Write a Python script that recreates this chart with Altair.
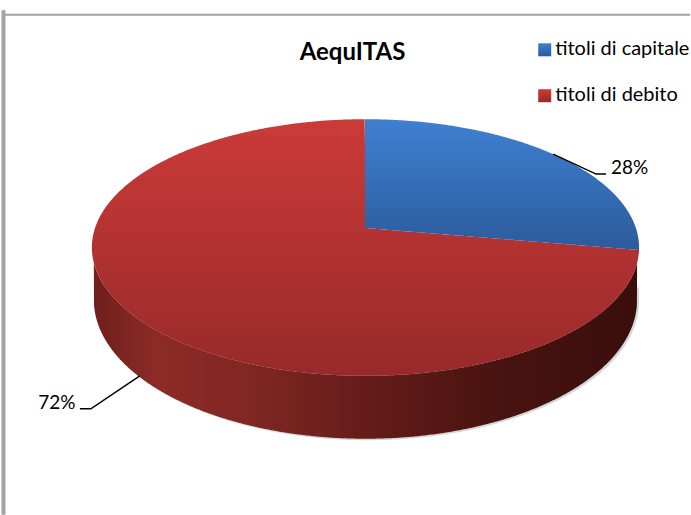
import numpy as np
import pandas as pd
import altair as alt

W, H = 691, 515
title_text = "AequITAS"
categories = ["titoli di capitale", "titoli di debito"]
shares = [28, 72]
labels = ["28%", "72%"]

# Perspective view of the pie
CX, CY, A, B = 366, 247.5, 274, 128.5       # top face
APEX_Y = 228                                 # apex of the slices
RAY_END = (640, 250)                         # slice boundary on the rim
LCY, LA, LB = 300, 272, 139                  # lower rim

def upper(xs, cx=CX, cy=CY, a=A, b=B):
    return cy - b * np.sqrt(np.clip(1 - ((xs - cx) / a) ** 2, 0, 1))

def lower(xs, cx=CX, cy=CY, a=A, b=B):
    return cy + b * np.sqrt(np.clip(1 - ((xs - cx) / a) ** 2, 0, 1))

def dense(x0, x1, n=500):
    # cosine spacing keeps the rim smooth at the ellipse's ends
    return (x0 + x1) / 2 - (x1 - x0) / 2 * np.cos(np.linspace(0, np.pi, n))

xs_all = dense(CX - A, CX + A)
ray = lambda xs: APEX_Y + (xs - CX) * (RAY_END[1] - APEX_Y) / (RAY_END[0] - CX)

# the blue slice overlaps the red one by a hair, so no light seam shows between them
xb = dense(CX - 0.5, RAY_END[0], 300)
blue = pd.DataFrame({"x": xb, "y": upper(xb), "y2": ray(xb)})

red = pd.DataFrame({
    "x": xs_all,
    "y": np.where(xs_all <= CX, upper(xs_all), ray(xs_all)),
    "y2": lower(xs_all),
})

wall_y2 = np.where(np.abs(xs_all - CX) <= LA, lower(xs_all, cy=LCY, a=LA, b=LB), lower(xs_all))
wall = pd.DataFrame({"x": xs_all, "y": lower(xs_all), "y2": np.maximum(wall_y2, lower(xs_all))})

xshadow = dense(CX - LA + 1, CX + LA + 2)
shadow = pd.DataFrame({
    "x": xshadow,
    "y": CY + 40 + 0 * xshadow,
    "y2": lower(xshadow, cx=CX + 2, cy=LCY + 1.5, a=LA, b=LB),
})

X = alt.X("x:Q", scale=alt.Scale(domain=[0, W], range=[0, W], nice=False, zero=False), axis=None)
Y = alt.Y("y:Q", scale=alt.Scale(domain=[H, 0], range=[H, 0], nice=False, zero=False), axis=None)
Y2 = alt.Y2("y2:Q")

def grad(stops, x2=0, y2=1):
    return alt.LinearGradient(
        gradient="linear", x1=0, x2=x2, y1=0, y2=y2,
        stops=[alt.GradientStop(offset=o, color=c) for o, c in stops])

BLUE = grad([(0, "#3f80d2"), (1, "#2b5b9c")])
RED = grad([(0, "#cb3b38"), (1, "#98292a")])
WALL = grad([(0.0, "#6e1f1c"), (0.12, "#8c2b28"), (0.3, "#7f2623"),
             (0.5, "#651c19"), (0.75, "#481310"), (1.0, "#3a0e0b")], x2=1, y2=0)

frame_top = pd.DataFrame({"x": [5], "x2": [W], "y": [14.5]})
frame_left = pd.DataFrame({"x": [3.5], "y": [10], "y2": [H]})
rule_top = alt.Chart(frame_top).mark_rule(color="#a3a3a3", strokeWidth=2).encode(
    x=X, x2="x2:Q", y=Y)
rule_left = alt.Chart(frame_left).mark_rule(color="#a3a3a3", strokeWidth=4).encode(
    x=X, y=Y, y2=Y2)

lead = pd.DataFrame({
    "x": [554, 597, 607, 140, 91, 80],
    "y": [154, 174, 174, 376, 409, 409],
    "g": ["a", "a", "a", "b", "b", "b"],
    "o": [0, 1, 2, 0, 1, 2],
})
leaders = alt.Chart(lead).mark_line(color="#000000", strokeWidth=1.5).encode(
    x=X, y=Y, detail="g:N", order="o:Q")

label_df = pd.DataFrame({"x": [630.5, 57], "y": [168, 403], "t": labels})
label_marks = alt.Chart(label_df).mark_text(
    font="Lato", fontSize=19, color="#000000", align="center", baseline="middle"
).encode(x=X, y=Y, text="t:N")

title_df = pd.DataFrame({"x": [353], "y": [53], "t": [title_text]})
title_mark = alt.Chart(title_df).mark_text(
    font="Lato", fontSize=24, fontWeight="bold", color="#000000", align="center", baseline="middle"
).encode(x=X, y=Y, text="t:N")

leg_text = pd.DataFrame({"x": [556, 556], "y": [48.5, 94.5], "t": categories})
leg_marks = alt.Chart(leg_text).mark_text(
    font="Lato", fontSize=20, color="#000000", align="left", baseline="middle"
).encode(x=X, y=Y, text="t:N")

sw_b = alt.Chart(pd.DataFrame({"x": [539], "x2": [552], "y": [43], "y2": [56]})).mark_rect(color=BLUE).encode(
    x=X, x2="x2:Q", y=Y, y2=Y2)
sw_r = alt.Chart(pd.DataFrame({"x": [539], "x2": [552], "y": [89], "y2": [102]})).mark_rect(color=RED).encode(
    x=X, x2="x2:Q", y=Y, y2=Y2)

def area(df, fill, **kw):
    return alt.Chart(df).mark_area(color=fill, **kw).encode(x=X, y=Y, y2=Y2)

chart = alt.layer(
    rule_left,
    rule_top,
    area(shadow, "#7f8f8f", opacity=0.35),
    area(wall, WALL),
    area(red, RED),
    area(blue, BLUE),
    leaders,
    label_marks,
    title_mark,
    sw_b,
    sw_r,
    leg_marks,
).properties(
    width=W, height=H, padding=0, background="#ffffff"
).configure_view(stroke=None)

chart.save("out.html", embed_options={
    "renderer": "svg", "actions": False,
    "defaultStyle": "body{margin:0 !important;overflow:hidden}",
})
